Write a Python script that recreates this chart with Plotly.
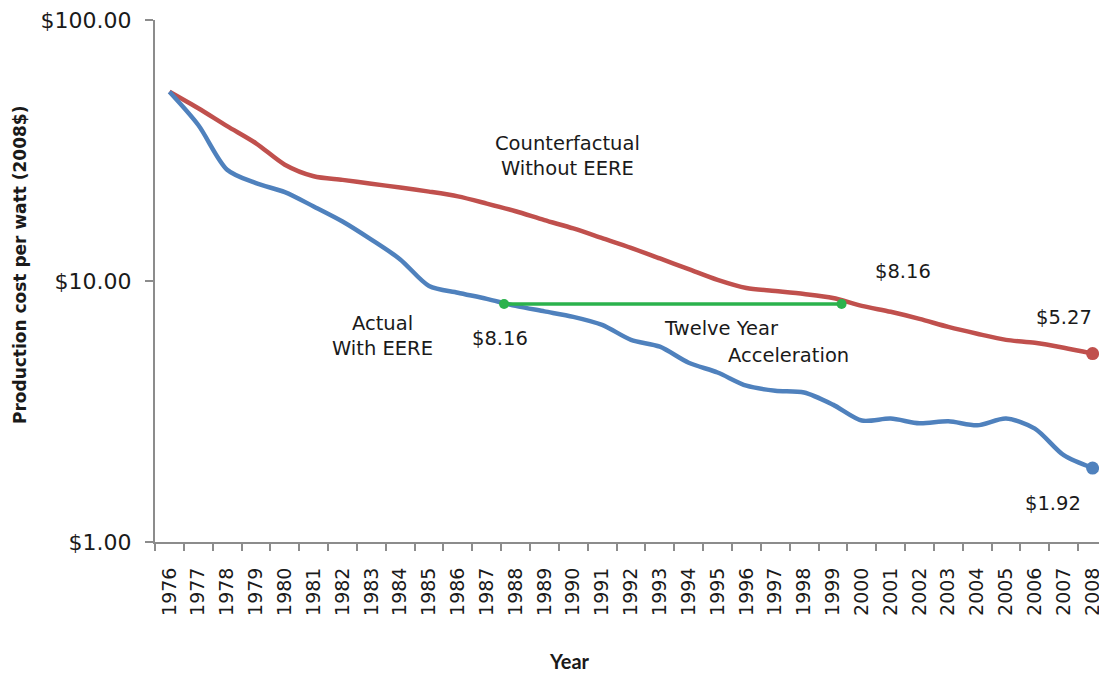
import plotly.graph_objects as go

years = list(range(1976, 2009))
counterfactual = [53.1, 45.9, 39.2, 33.7, 27.9, 25.2, 24.4, 23.6, 22.8, 22.0,
                  21.1, 19.8, 18.5, 17.1, 15.9, 14.6, 13.4, 12.2, 11.1, 10.1,
                  9.4, 9.16, 8.92, 8.61, 8.03, 7.62, 7.16, 6.67, 6.28, 5.95,
                  5.80, 5.55, 5.27]
actual = [53.1, 39.6, 26.7, 23.7, 21.9, 19.3, 16.9, 14.4, 12.1, 9.57,
          9.02, 8.54, 8.03, 7.65, 7.29, 6.79, 5.95, 5.60, 4.86, 4.46,
          3.97, 3.80, 3.74, 3.36, 2.92, 2.97, 2.85, 2.90, 2.80, 2.97,
          2.72, 2.15, 1.92]
accel_x = [1987.6, 1999.3]
accel_y = [8.16, 8.16]
y_tick_vals = [1, 10, 100]
y_tick_text = ["$1.00", "$10.00", "$100.00"]

RED = "#C0504D"
BLUE = "#4F81BD"
GREEN = "#2BB24C"
AXIS = "#8C8C8C"
TXT = "#1a1a1a"
FONT = "DejaVu Sans"

fig = go.Figure()
fig.add_trace(go.Scatter(x=years, y=counterfactual, mode="lines",
                         line=dict(color=RED, width=4.5, shape="spline", smoothing=0.8),
                         showlegend=False, hoverinfo="x+y"))
fig.add_trace(go.Scatter(x=years, y=actual, mode="lines",
                         line=dict(color=BLUE, width=4.5, shape="spline", smoothing=0.8),
                         showlegend=False, hoverinfo="x+y"))
fig.add_trace(go.Scatter(x=[years[-1]], y=[counterfactual[-1]], mode="markers",
                         marker=dict(color=RED, size=13), showlegend=False))
fig.add_trace(go.Scatter(x=[years[-1]], y=[actual[-1]], mode="markers",
                         marker=dict(color=BLUE, size=13), showlegend=False))
fig.add_trace(go.Scatter(x=accel_x, y=accel_y, mode="lines+markers",
                         line=dict(color=GREEN, width=3.5),
                         marker=dict(color=GREEN, size=10), showlegend=False))

def ann(text, x, py, **kw):
    # py: vertical pixel position in the reference, converted to log coordinate
    fig.add_annotation(text=text, x=x, y=(542 - py) / 262, xref="x", yref="y",
                       showarrow=False, font=dict(family=FONT, size=19.5, color=TXT), **kw)

ann("Counterfactual<br>Without EERE", 1989.8, 155)
ann("Actual<br>With EERE", 1983.4, 335)
ann("$8.16", 1987.46, 338)
ann("Twelve Year", 1995.12, 328)
ann("Acceleration", 1997.47, 355)
ann("$8.16", 2001.43, 270)
ann("$5.27", 2007.01, 317)
ann("$1.92", 2006.63, 503)

# axis titles placed as paper annotations (plot area: x 155..1107, y 18..542 px)
fig.add_annotation(text="<b>Production cost per watt (2008$)</b>", textangle=-90,
                   x=(20 - 155) / 952, y=(542 - 264) / 524, xref="paper", yref="paper",
                   xanchor="center", yanchor="middle", showarrow=False,
                   font=dict(family=FONT, size=17, color=TXT))
fig.add_annotation(text="<b>Year</b>",
                   x=(569 - 155) / 952, y=(542 - 661) / 524, xref="paper", yref="paper",
                   xanchor="center", yanchor="middle", showarrow=False,
                   font=dict(family="Lato", size=20, color=TXT))

fig.update_layout(
    width=1099, height=667,
    margin=dict(l=147, r=0, t=10, b=133),
    paper_bgcolor="white", plot_bgcolor="white",
    font=dict(family=FONT, color=TXT),
    showlegend=False,
)
fig.update_xaxes(
    range=[1975.5, 2008.5], tickmode="array", tickvals=years,
    ticktext=[str(y) for y in years], tickangle=-90, ticks="",
    tickfont=dict(family=FONT, size=19, color=TXT), ticklabelstandoff=16,
    showline=True, linecolor=AXIS, linewidth=2, showgrid=False, zeroline=False,
    minor=dict(tickmode="array", tickvals=[y - 0.5 for y in years] + [2008.5],
               ticks="outside", ticklen=7, tickcolor=AXIS, tickwidth=1.5, showgrid=False),
)
fig.update_yaxes(
    type="log", range=[0, 2], tickmode="array", tickvals=y_tick_vals, ticktext=y_tick_text,
    ticks="outside", ticklen=8, tickcolor=AXIS, tickwidth=1.5,
    tickfont=dict(family=FONT, size=22, color=TXT), ticklabelstandoff=9,
    ticklabeloverflow="allow",
    showline=True, linecolor=AXIS, linewidth=2, showgrid=False, zeroline=False,
)

fig.write_html("out.html")
